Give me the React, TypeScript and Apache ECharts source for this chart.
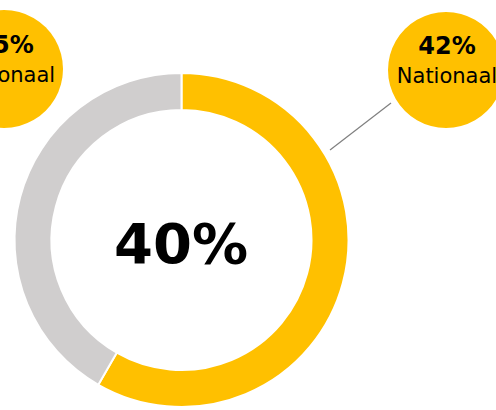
import React, { useEffect, useRef } from "react";
import * as echarts from "echarts";

const categories = ["Aandeel", "Overig"];
const values = [58.3, 41.7];
const centerLabel = "40%";
const bubbleValues = ["35%", "42%"];
const bubbleLabels = ["Nationaal", "Nationaal"];

const YELLOW = "#FFC000";
const GRAY = "#D0CECE";

export default function App() {
  const ref = useRef<HTMLDivElement>(null);
  useEffect(() => {
    if (!ref.current) return;
    const chart = echarts.init(ref.current, null, { renderer: "svg" });
    const bubbles = [
      { cx: 4, cy: 69, r: 59 },
      { cx: 446, cy: 70, r: 58 },
    ];
    const graphic: any[] = [
      {
        type: "line",
        shape: { x1: 330, y1: 150, x2: 391, y2: 103 },
        style: { stroke: "#7F7F7F", lineWidth: 1.2 },
        z: 10,
      },
    ];
    bubbles.forEach((b, i) => {
      graphic.push({
        type: "circle",
        shape: { cx: b.cx, cy: b.cy, r: b.r },
        style: { fill: YELLOW },
        z: 10,
      });
      graphic.push({
        type: "text",
        x: b.cx + 1,
        y: b.cy - 24,
        style: {
          text: bubbleValues[i],
          font: "bold 24px 'DejaVu Sans'",
          fill: "#000",
          align: "center",
          verticalAlign: "middle",
        },
        z: 11,
      });
      graphic.push({
        type: "text",
        x: b.cx + 1,
        y: b.cy + 6,
        style: {
          text: bubbleLabels[i],
          font: "21px 'DejaVu Sans'",
          fill: "#000",
          align: "center",
          verticalAlign: "middle",
        },
        z: 11,
      });
    });
    graphic.push({
      type: "text",
      x: 181,
      y: 243,
      style: {
        text: centerLabel,
        font: "bold 56px 'DejaVu Sans'",
        fill: "#000",
        align: "center",
        verticalAlign: "middle",
      },
      z: 11,
    });
    chart.setOption({
      animation: false,
      backgroundColor: "#fff",
      graphic,
      series: [
        {
          type: "pie",
          center: [181.5, 240],
          radius: [130, 167],
          startAngle: 90,
          clockwise: true,
          label: { show: false },
          labelLine: { show: false },
          emphasis: { disabled: true },
          itemStyle: { borderColor: "#fff", borderWidth: 2 },
          data: categories.map((c, i) => ({
            name: c,
            value: values[i],
            itemStyle: { color: i === 0 ? YELLOW : GRAY },
          })),
        },
      ],
    });
    return () => chart.dispose();
  }, []);
  return (
    <div
      ref={ref}
      style={{ position: "fixed", left: 0, top: 0, width: 496, height: 410 }}
    />
  );
}
